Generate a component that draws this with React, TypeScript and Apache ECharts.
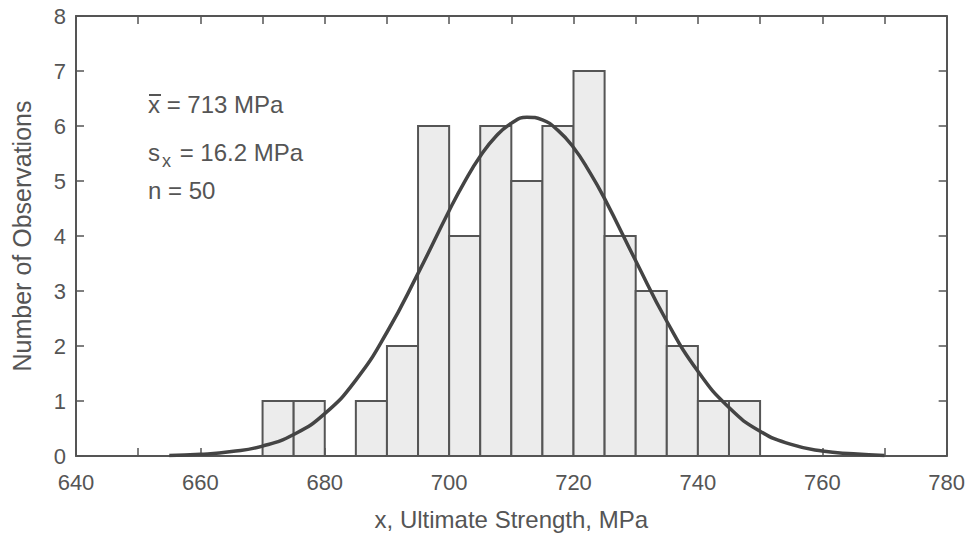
import React, { useEffect, useRef } from "react";
import * as echarts from "echarts";

const binStarts = [670, 675, 680, 685, 690, 695, 700, 705, 710, 715, 720, 725, 730, 735, 740, 745];
const binWidth = 5;
const counts = [1, 1, 0, 1, 2, 6, 4, 6, 5, 6, 7, 4, 3, 2, 1, 1];

const curveX = [655, 660, 665, 670, 675, 680, 685, 690, 695, 700, 702.5, 705, 707.5, 710, 712.5, 715, 717.5, 720, 722.5, 725, 730, 735, 740, 745, 750, 755, 760, 765, 770];
const curveY = [0.01, 0.03, 0.08, 0.18, 0.39, 0.77, 1.38, 2.25, 3.32, 4.46, 4.99, 5.45, 5.81, 6.05, 6.16, 6.11, 5.92, 5.61, 5.18, 4.68, 3.55, 2.45, 1.54, 0.88, 0.45, 0.21, 0.09, 0.04, 0.01];

const statMean = "x = 713 MPa";
const statSdValue = " = 16.2 MPa";
const statN = "n = 50";

const FONT = "'Liberation Sans', Arial, Helvetica, sans-serif";
const GRAY = "#555";

export default function App() {
  const ref = useRef<HTMLDivElement>(null);
  useEffect(() => {
    if (!ref.current) return;
    const chart = echarts.init(ref.current, null, { renderer: "svg" });
    const bins = binStarts.map((s, i) => [s, s + binWidth, counts[i]]).filter((b) => b[2] > 0);
    const tick = { show: true, inside: true, length: 8, lineStyle: { color: GRAY, width: 1.5 } };
    const line = { show: true, onZero: false, lineStyle: { color: GRAY, width: 2 } };
    chart.setOption({
      animation: false,
      backgroundColor: "#fff",
      grid: { left: 76, top: 16, right: 20, bottom: 78 },
      xAxis: [
        {
          type: "value",
          position: "bottom",
          min: 640,
          max: 780,
          interval: 10,
          axisLine: line,
          splitLine: { show: false },
          axisTick: tick,
          axisLabel: {
            color: GRAY,
            fontSize: 22,
            fontFamily: FONT,
            margin: 15,
            formatter: (v: number) => (v % 20 === 0 ? String(v) : ""),
          },
          name: "x, Ultimate Strength, MPa",
          nameLocation: "middle",
          nameGap: 51,
          nameTextStyle: { color: GRAY, fontSize: 24, fontFamily: FONT },
        },
        {
          type: "value",
          position: "top",
          min: 640,
          max: 780,
          interval: 10,
          axisLine: line,
          splitLine: { show: false },
          axisTick: tick,
          axisLabel: { show: false },
        },
      ],
      yAxis: [
        {
          type: "value",
          position: "left",
          min: 0,
          max: 8,
          interval: 1,
          axisLine: line,
          splitLine: { show: false },
          axisTick: tick,
          axisLabel: { color: GRAY, fontSize: 22, fontFamily: FONT, margin: 10 },
          name: "Number of Observations",
          nameLocation: "middle",
          nameGap: 42,
          nameTextStyle: { color: GRAY, fontSize: 25, fontFamily: FONT },
        },
        {
          type: "value",
          position: "right",
          min: 0,
          max: 8,
          interval: 1,
          axisLine: line,
          splitLine: { show: false },
          axisTick: tick,
          axisLabel: { show: false },
        },
      ],
      series: [
        {
          type: "custom",
          xAxisIndex: 0,
          yAxisIndex: 0,
          data: bins,
          renderItem: (params: any, api: any) => {
            const p0 = api.coord([api.value(0), api.value(2)]);
            const p1 = api.coord([api.value(1), 0]);
            return {
              type: "rect",
              shape: { x: p0[0], y: p0[1], width: p1[0] - p0[0], height: p1[1] - p0[1] },
              style: { fill: "#ececec", stroke: GRAY, lineWidth: 2 },
            };
          },
          z: 2,
        },
        {
          type: "line",
          xAxisIndex: 0,
          yAxisIndex: 0,
          data: curveX.map((x, i) => [x, curveY[i]]),
          smooth: true,
          showSymbol: false,
          lineStyle: { color: "#444", width: 3.5 },
          z: 3,
        },
      ],
      graphic: [
        {
          type: "text",
          left: 148,
          top: 92,
          style: { text: statMean, fill: GRAY, font: `24px ${FONT}` },
        },
        {
          type: "line",
          shape: { x1: 149, y1: 95, x2: 161, y2: 95 },
          style: { stroke: GRAY, lineWidth: 2 },
        },
        {
          type: "text",
          left: 148,
          top: 140,
          style: { text: "s", fill: GRAY, font: `24px ${FONT}` },
        },
        {
          type: "text",
          left: 162,
          top: 152,
          style: { text: "x", fill: GRAY, font: `18px ${FONT}` },
        },
        {
          type: "text",
          left: 173,
          top: 140,
          style: { text: statSdValue, fill: GRAY, font: `24px ${FONT}` },
        },
        {
          type: "text",
          left: 148,
          top: 178,
          style: { text: statN, fill: GRAY, font: `24px ${FONT}` },
        },
      ],
    });
    return () => chart.dispose();
  }, []);
  return <div ref={ref} style={{ width: 968, height: 536, position: "absolute", left: 0, top: 0 }} />;
}
